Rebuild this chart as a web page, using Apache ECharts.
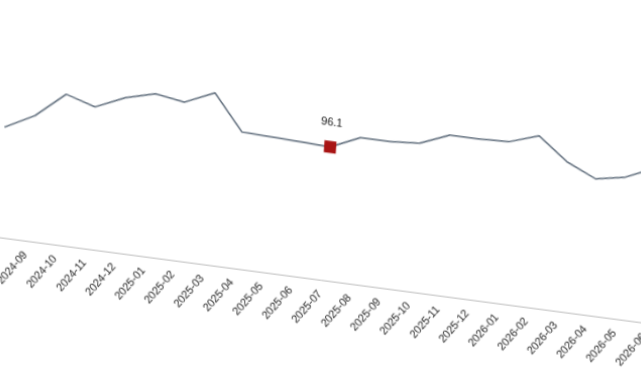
<!DOCTYPE html>
<html>
<head>
<meta charset="utf-8">
<script src="https://cdn.jsdelivr.net/npm/echarts@6/dist/echarts.min.js"></script>
<style>
html,body{margin:0;padding:0;overflow:hidden;background:#ffffff;width:641px;height:380px;}
#chart{position:absolute;left:0;top:0;width:700px;height:400px;transform:matrix(1,0.1326,-0.07,1,0,0);transform-origin:0 0;}
</style>
</head>
<body>
<div id="chart"></div>
<script>
const categories = ['2024-08','2024-09','2024-10','2024-11','2024-12','2025-01','2025-02','2025-03','2025-04','2025-05','2025-06','2025-07','2025-08','2025-09','2025-10','2025-11','2025-12','2026-01','2026-02','2026-03','2026-04','2026-05','2026-06'];
const values = [94.0,95.4,97.7,96.9,98.1,98.8,98.4,99.6,96.4,96.3,96.2,96.1,97.3,97.3,97.5,98.6,98.6,98.7,99.6,97.6,96.4,96.9,98.1];
const highlightIndex = 11;

const chart = echarts.init(document.getElementById('chart'), null, {renderer:'canvas'});
const seriesData = values.map((v, i) => i === highlightIndex ? {
  value: v,
  symbol: 'rect',
  symbolSize: 12,
  itemStyle: {color: '#a81414'},
  label: {show: true, position: 'top', distance: 13, color: '#111', fontSize: 11, fontFamily: 'Liberation Sans, Arial, sans-serif'}
} : v);

chart.setOption({
  animation: false,
  backgroundColor: '#ffffff',
  grid: {left: 13.3, right: 38.8, top: 59.3, bottom: 164.6, containLabel: false, outerBoundsMode: 'none'},
  xAxis: {
    type: 'category',
    data: categories,
    boundaryGap: false,
    axisLine: {show: true, lineStyle: {color: '#bdbdbd', width: 1}},
    axisTick: {show: false},
    axisLabel: {interval: 0, showMinLabel: false, rotate: 54, margin: 12, color: '#1a1a1a', fontSize: 11, fontFamily: 'Liberation Sans, Arial, sans-serif'},
    splitLine: {show: false}
  },
  yAxis: {
    type: 'value',
    min: 84,
    max: 100,
    show: false
  },
  series: [{
    type: 'line',
    data: seriesData,
    symbol: 'none',
    lineStyle: {color: '#5d6b7a', width: 1.5},
    itemStyle: {color: '#5d6b7a'}
  }]
});
</script>
</body>
</html>
